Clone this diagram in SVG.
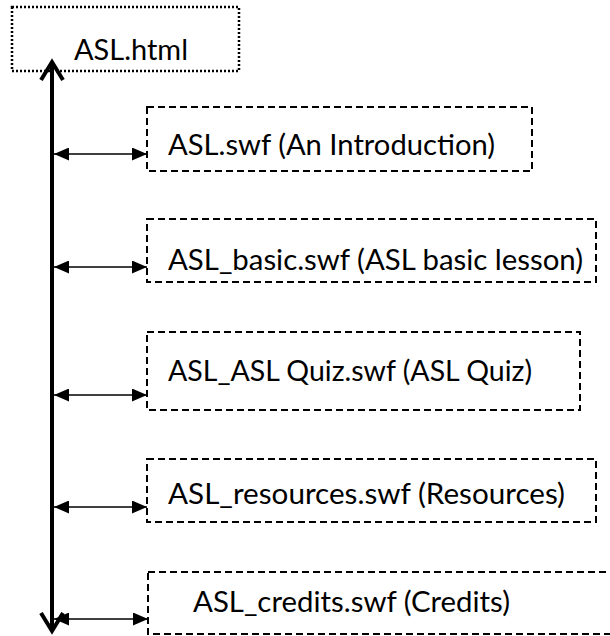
<svg xmlns="http://www.w3.org/2000/svg" width="610" height="636" viewBox="0 0 610 636">
<style>
.dash{fill:none;stroke:#000;stroke-width:2;stroke-dasharray:7 4}
.dot{fill:none;stroke:#000;stroke-width:2.5;stroke-dasharray:2 2}
.lbl{font-family:Lato,"Open Sans","Liberation Sans",sans-serif;font-size:28px;fill:#000}
.conn{stroke:#000;stroke-width:1.6;fill:none}
.main{stroke:#000;stroke-width:4;fill:none}
</style>
<defs>
<marker id="ah" viewBox="0 0 15 13" refX="15" refY="6.5" markerWidth="15" markerHeight="13" markerUnits="userSpaceOnUse" orient="auto-start-reverse">
<path d="M0,0 L15,6.5 L0,13 Z" fill="#000"/>
</marker>
</defs>
<rect width="610" height="636" fill="#fff"/>
<g id="node-html">
<rect class="dot" x="12" y="7" width="227" height="64"/>
<text class="lbl" x="74" y="60" textLength="114" lengthAdjust="spacingAndGlyphs">ASL.html</text>
</g>
<g id="node-intro">
<rect class="dash" x="147" y="107" width="385" height="64"/>
<text class="lbl" x="168" y="155" textLength="327" lengthAdjust="spacingAndGlyphs">ASL.swf (An Introduction)</text>
</g>
<g id="node-basic">
<rect class="dash" x="147" y="219" width="449" height="63"/>
<text class="lbl" x="168" y="270" textLength="415" lengthAdjust="spacingAndGlyphs">ASL_basic.swf (ASL basic lesson)</text>
</g>
<g id="node-quiz">
<rect class="dash" x="147" y="332" width="433" height="78"/>
<text class="lbl" x="168" y="381" textLength="364" lengthAdjust="spacingAndGlyphs">ASL_ASL Quiz.swf (ASL Quiz)</text>
</g>
<g id="node-resources">
<rect class="dash" x="147" y="459" width="449" height="63"/>
<text class="lbl" x="168" y="504" textLength="397" lengthAdjust="spacingAndGlyphs">ASL_resources.swf (Resources)</text>
</g>
<g id="node-credits">
<rect class="dash" x="148" y="572" width="470" height="62"/>
<text class="lbl" x="193" y="612" textLength="317" lengthAdjust="spacingAndGlyphs">ASL_credits.swf (Credits)</text>
</g>
<g id="connectors">
<line class="main" x1="52" y1="62" x2="52" y2="630"/>
<polyline class="main" points="41,80 52,62 63,80" stroke-linejoin="miter"/>
<polyline class="main" points="41,613 52,631 63,613" stroke-linejoin="miter"/>
<line class="conn" x1="54" y1="154" x2="147" y2="154" marker-start="url(#ah)" marker-end="url(#ah)"/>
<line class="conn" x1="54" y1="267" x2="147" y2="267" marker-start="url(#ah)" marker-end="url(#ah)"/>
<line class="conn" x1="54" y1="395" x2="147" y2="395" marker-start="url(#ah)" marker-end="url(#ah)"/>
<line class="conn" x1="54" y1="507" x2="147" y2="507" marker-start="url(#ah)" marker-end="url(#ah)"/>
<line class="conn" x1="54" y1="619" x2="148" y2="619" marker-start="url(#ah)" marker-end="url(#ah)"/>
</g>
</svg>
